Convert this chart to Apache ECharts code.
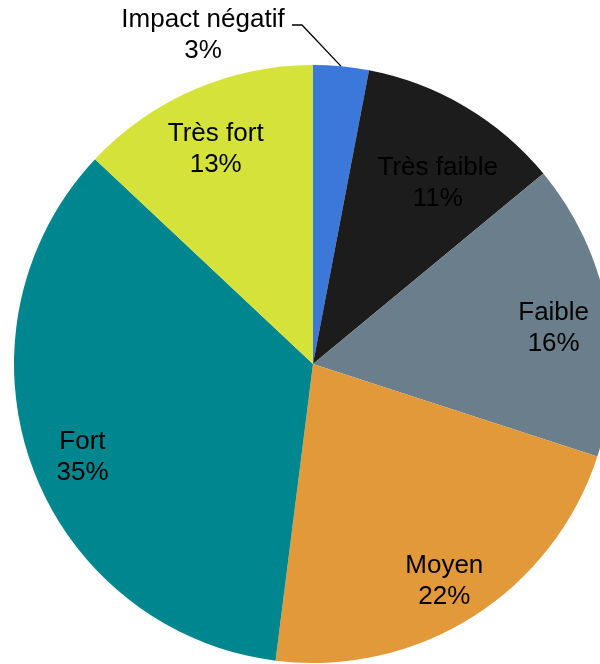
<!DOCTYPE html>
<html>
<head>
<meta charset="utf-8">
<script src="https://cdn.jsdelivr.net/npm/echarts@6/dist/echarts.min.js"></script>
<style>
  html, body { margin: 0; padding: 0; background: #fff; }
  #chart { width: 600px; height: 664px; }
</style>
</head>
<body>
<div id="chart"></div>
<script>
const categories = ['Impact négatif', 'Très faible', 'Faible', 'Moyen', 'Fort', 'Très fort']
const values = [3, 11, 16, 22, 35, 13]
const colors = ['#3b78d9', '#1c1c1c', '#6a7f8b', '#e2993a', '#00868f', '#d4e23a']

const chart = echarts.init(document.getElementById('chart'))

const pieData = categories.map((name, i) => ({
  name: name,
  value: values[i],
  itemStyle: { color: colors[i] }
}))

// ring on top of the pie only to place the labels at ~0.8 of the radius
const labelData = categories.map((name, i) => {
  const item = { name: name, value: values[i] }
  if (i === 0) {
    item.label = { position: 'outside' }
    item.labelLine = { show: true }
  }
  if (i === 1) {
    item.label = { offset: [0, 30] }
  }
  return item
})

const textStyle = {
  color: '#000',
  fontFamily: 'Liberation Sans, Arial, sans-serif',
  fontSize: 26,
  lineHeight: 31,
  textBorderWidth: 0
}

chart.setOption({
  animation: false,
  series: [
    {
      type: 'pie',
      center: [313, 364],
      radius: [0, 299],
      startAngle: 90,
      clockwise: true,
      silent: true,
      label: { show: false },
      labelLine: { show: false },
      itemStyle: { borderWidth: 0 },
      emphasis: { disabled: true },
      data: pieData
    },
    {
      type: 'pie',
      center: [313, 364],
      radius: [185, 299],
      startAngle: 90,
      clockwise: true,
      silent: true,
      itemStyle: { color: 'rgba(0,0,0,0)', borderWidth: 0 },
      emphasis: { disabled: true },
      label: Object.assign({
        show: true,
        position: 'inside',
        offset: [0, 10],
        formatter: '{b}\n{c}%'
      }, textStyle),
      labelLine: {
        show: false,
        lineStyle: { color: '#000', width: 1.3 }
      },
      labelLayout: function (params) {
        if (params.dataIndex !== 0) return {}
        const pts = params.labelLinePoints
        const p0 = pts ? pts[0] : [342, 66]
        return {
          x: 203,
          y: 35,
          align: 'center',
          verticalAlign: 'middle',
          labelLinePoints: [p0, [302, 25], [292, 25]]
        }
      },
      data: labelData
    }
  ]
})
</script>
</body>
</html>
